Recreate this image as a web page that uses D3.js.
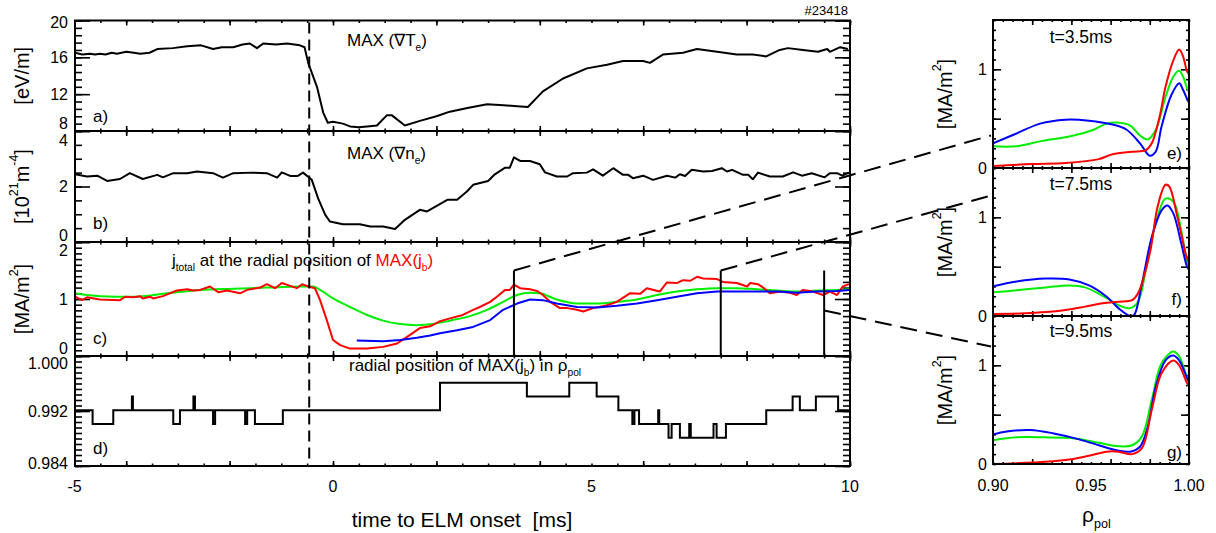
<!DOCTYPE html>
<html><head><meta charset="utf-8">
<script src="https://cdn.jsdelivr.net/npm/d3@7"></script>
<style>
body{margin:0;background:#fff;}
svg{display:block;font-family:"Liberation Sans",Arial,Helvetica,sans-serif;}
</style>
</head><body>
<svg id="chart" width="1216" height="533"></svg>
<script>
// ---------------- DATA ----------------
// a) MAX(grad Te) [eV/m]
const tA=[-4.99,-4.85,-4.70,-4.60,-4.51,-4.40,-4.28,-4.18,-4.00,-3.85,-3.73,-3.55,-3.40,-3.10,-2.82,-2.55,-2.32,-2.15,-1.93,-1.75,-1.61,-1.47,-1.35,-1.10,-0.89,-0.64,-0.55,-0.48,-0.31,-0.19,-0.10,0.00,0.19,0.33,0.50,0.66,0.85,1.04,1.14,1.39,1.68,2.00,2.26,2.60,2.98,3.30,3.56,3.77,4.06,4.45,4.91,5.30,5.61,6.00,6.13,6.38,6.77,7.04,7.43,7.81,8.12,8.38,8.64,8.80,9.09,9.38,9.56,9.61,9.81,9.96];
const gradTe=[16.5,16.3,16.4,16.3,16.4,16.3,16.5,16.4,16.6,16.5,16.4,16.5,16.9,17.0,17.2,17.3,16.9,17.1,17.1,17.4,17.5,17.0,17.5,17.4,17.5,17.3,17.1,15.4,12.8,10.0,8.9,9.0,8.8,8.5,8.4,8.5,8.6,9.7,9.7,8.6,9.1,9.6,10.1,10.5,10.9,10.8,10.7,10.6,12.3,13.7,14.8,15.2,15.6,15.6,15.4,16.3,16.5,16.9,16.6,16.3,16.3,16.1,16.8,17.0,16.8,16.6,16.9,16.6,17.1,16.9];
// b) MAX(grad ne) [1e21 m^-4]
const tB=[-4.99,-4.76,-4.56,-4.37,-4.12,-3.93,-3.68,-3.40,-3.29,-3.09,-2.82,-2.63,-2.32,-2.13,-1.93,-1.55,-1.28,-1.08,-0.99,-0.83,-0.68,-0.58,-0.41,-0.29,-0.15,-0.06,0.19,0.52,0.72,0.97,1.20,1.39,1.68,1.82,2.21,2.40,2.59,2.71,3.00,3.13,3.33,3.42,3.50,3.62,3.81,4.00,4.10,4.33,4.53,4.64,4.91,5.03,5.22,5.42,5.61,5.71,5.80,6.00,6.19,6.46,6.62,6.71,6.81,6.94,7.16,7.33,7.52,7.62,7.72,7.93,8.03,8.12,8.22,8.45,8.70,8.90,9.07,9.26,9.51,9.61,9.75,9.85,9.98];
const gradNe=[2.44,2.36,2.39,2.20,2.27,2.48,2.27,2.42,2.33,2.48,2.48,2.54,2.48,2.32,2.48,2.50,2.48,2.32,2.51,2.38,2.38,2.50,2.24,1.58,0.98,0.74,0.64,0.64,0.56,0.56,0.47,0.80,1.16,1.10,1.52,1.52,1.82,2.06,2.20,2.44,2.68,2.68,3.05,2.92,2.92,2.80,2.51,2.36,2.36,2.48,2.50,2.62,2.39,2.66,2.42,2.42,2.30,2.39,2.24,2.39,2.32,2.44,2.38,2.60,2.54,2.56,2.66,2.54,2.60,2.42,2.42,2.26,2.50,2.36,2.36,2.51,2.39,2.48,2.33,2.48,2.48,2.39,2.50];
// c) j_total at radial position of MAX(j_b) [MA/m^2]
const tGreen=[-4.99,-4.51,-3.87,-3.21,-2.57,-1.93,-1.28,-0.64,-0.39,-0.25,0.00,0.33,0.66,0.97,1.30,1.62,1.93,2.26,2.65,2.98,3.29,3.56,3.81,4.00,4.33,4.72,5.11,5.49,5.88,6.27,6.65,7.04,7.43,7.81,8.20,8.59,8.97,9.36,9.75,9.98];
const jGreen=[1.10,1.05,1.04,1.10,1.16,1.18,1.20,1.22,1.22,1.16,1.01,0.86,0.72,0.62,0.56,0.54,0.56,0.62,0.70,0.81,0.95,1.07,1.11,1.10,0.99,0.92,0.92,0.95,0.99,1.07,1.13,1.17,1.19,1.19,1.17,1.15,1.13,1.15,1.16,1.17];
const tRed=[-4.99,-4.85,-4.76,-4.51,-4.12,-4.02,-3.87,-3.73,-3.68,-3.54,-3.48,-3.29,-3.02,-2.82,-2.71,-2.57,-2.38,-2.22,-2.05,-1.80,-1.66,-1.41,-1.28,-1.12,-0.99,-0.83,-0.70,-0.60,-0.48,-0.35,-0.25,-0.12,0.00,0.14,0.33,0.66,0.97,1.24,1.49,1.68,1.88,2.07,2.26,2.51,2.71,2.84,3.04,3.17,3.33,3.42,3.50,3.62,3.81,3.95,4.06,4.20,4.39,4.53,4.72,4.84,5.03,5.30,5.49,5.74,5.94,6.07,6.32,6.46,6.65,6.77,6.91,7.04,7.16,7.43,7.54,7.81,8.01,8.07,8.22,8.32,8.45,8.65,8.84,8.97,9.09,9.28,9.48,9.61,9.75,9.86,9.98];
const jRed=[1.04,0.98,1.03,0.99,0.98,1.04,1.03,1.05,1.01,1.04,1.01,1.05,1.15,1.17,1.15,1.16,1.22,1.12,1.15,1.10,1.16,1.20,1.26,1.19,1.28,1.23,1.19,1.26,1.22,1.19,0.98,0.63,0.28,0.19,0.13,0.13,0.16,0.22,0.37,0.49,0.52,0.61,0.66,0.72,0.81,0.86,0.95,1.04,1.16,1.16,1.25,1.19,1.17,1.14,1.07,0.95,0.84,0.84,0.81,0.78,0.84,0.89,0.95,1.10,1.09,1.19,1.13,1.29,1.28,1.33,1.32,1.39,1.36,1.35,1.30,1.28,1.22,1.28,1.26,1.20,1.10,1.13,1.11,1.07,1.16,1.13,1.07,1.13,1.07,1.22,1.26];
const tBlue=[0.46,0.97,1.30,1.62,1.88,2.07,2.40,2.71,3.04,3.29,3.56,3.81,4.06,4.33,4.72,5.11,5.49,5.88,6.27,6.65,7.04,7.43,7.81,8.20,8.59,8.97,9.36,9.75,9.98];
const jBlue=[0.27,0.26,0.28,0.32,0.36,0.40,0.45,0.51,0.63,0.81,0.92,0.99,0.98,0.92,0.86,0.85,0.88,0.92,0.98,1.04,1.10,1.13,1.13,1.13,1.13,1.11,1.13,1.14,1.16];
// d) radial position of MAX(j_b) in rho_pol (step function)
const tD=[-4.99,-4.65,-4.25,-3.89,-3.87,-3.09,-2.96,-2.70,-2.67,-2.32,-2.28,-1.70,-1.66,-1.51,-0.97,2.07,3.75,4.57,5.10,5.52,5.79,5.83,5.92,6.29,6.31,6.49,6.55,6.71,6.89,6.92,7.36,7.42,7.60,8.38,8.89,9.03,9.34,9.77,10.0];
const rhoMax=[0.9921,0.9901,0.9921,0.9941,0.9921,0.9901,0.9921,0.9941,0.9921,0.9901,0.9921,0.9901,0.9921,0.9901,0.9921,0.9961,0.9941,0.9961,0.9941,0.9921,0.9901,0.9921,0.9901,0.9921,0.9901,0.9881,0.9901,0.9881,0.9901,0.9881,0.9901,0.9881,0.9901,0.9921,0.9941,0.9921,0.9941,0.9921,0.9921];
const tElm=-0.46;
// snapshot times and connector values
const snapT=[3.5,7.5,9.5];
const snapLabels=["t=3.5ms","t=7.5ms","t=9.5ms"];
const snapTop=[1.5,1.5,1.5];
const connStartJ=[1.5,1.5,0.8];
const connEndJ=[0.33,1.22,1.19];
// e) t=3.5ms profiles
const eBlueRho=[0.900,0.912,0.924,0.937,0.949,0.961,0.968,0.975,0.980,0.983,0.986,0.991,0.995,0.997,0.999,1.000];
const eBlueJ=[0.25,0.35,0.45,0.49,0.48,0.44,0.39,0.25,0.125,0.165,0.42,0.74,0.86,0.79,0.70,0.66];
const eGreenRho=[0.900,0.912,0.924,0.939,0.951,0.958,0.963,0.970,0.975,0.979,0.983,0.988,0.992,0.995,0.997,0.999,1.000];
const eGreenJ=[0.22,0.22,0.27,0.32,0.385,0.45,0.46,0.43,0.33,0.29,0.385,0.72,0.925,0.985,0.925,0.81,0.77];
const eRedRho=[0.900,0.920,0.937,0.954,0.961,0.971,0.978,0.981,0.985,0.988,0.992,0.995,0.997,0.999,1.000];
const eRedJ=[0.02,0.04,0.05,0.09,0.14,0.165,0.18,0.25,0.52,0.82,1.09,1.20,1.13,0.98,0.95];
// f) t=7.5ms profiles
const fBlueRho=[0.900,0.912,0.927,0.939,0.949,0.958,0.964,0.970,0.972,0.976,0.981,0.986,0.989,0.992,0.996,0.999,1.000];
const fBlueJ=[0.30,0.35,0.38,0.37,0.31,0.195,0.08,0.00,0.01,0.33,0.80,1.07,1.12,1.04,0.74,0.50,0.47];
const fGreenRho=[0.900,0.912,0.927,0.939,0.947,0.958,0.964,0.970,0.974,0.978,0.983,0.988,0.992,0.996,0.999,1.000];
const fGreenJ=[0.24,0.26,0.29,0.31,0.29,0.18,0.11,0.08,0.145,0.47,0.94,1.19,1.16,0.87,0.55,0.50];
const fRedRho=[0.900,0.920,0.937,0.947,0.956,0.964,0.971,0.974,0.980,0.984,0.988,0.990,0.994,0.999,1.000];
const fRedJ=[0.02,0.03,0.06,0.095,0.13,0.145,0.16,0.23,0.635,1.11,1.33,1.31,1.01,0.585,0.55];
// g) t=9.5ms profiles
const gBlueRho=[0.900,0.907,0.919,0.931,0.942,0.954,0.963,0.970,0.975,0.979,0.983,0.988,0.992,0.995,0.999,1.000];
const gBlueJ=[0.30,0.33,0.345,0.31,0.26,0.19,0.14,0.125,0.175,0.38,0.78,1.05,1.10,1.05,0.87,0.83];
const gGreenRho=[0.900,0.912,0.926,0.941,0.954,0.964,0.971,0.976,0.981,0.986,0.992,0.995,0.999,1.000];
const gGreenJ=[0.24,0.27,0.27,0.26,0.215,0.18,0.19,0.28,0.65,1.02,1.14,1.09,0.88,0.85];
const gRedRho=[0.900,0.920,0.937,0.947,0.958,0.964,0.971,0.976,0.981,0.986,0.992,0.995,0.999,1.000];
const gRedJ=[0.00,0.015,0.04,0.075,0.125,0.125,0.10,0.16,0.55,0.92,1.05,1.00,0.82,0.79];
// tick labels
const xTickLabels=[-5,0,5,10];
const xMajorTicks=[-4,-2,0,2,4,6,8,10];
const aTicks=[8,12,16,20];
const bTicks=[0,2,4];
const cTicks=[0,1,2];
const dTicks=[0.984,0.992,1.000];
const rhoTickLabels=[0.90,0.95,1.00];
const rhoMajorTicks=[0.92,0.94,0.96,0.98];
const rightYLabels=[0,1];
const rightYMajor=[0.5,1.0];

// ---------------- DRAWING ----------------
const svg=d3.select("#chart");
const RED="#ff0000", GREEN="#00ee00", BLUE="#0000ff";
const xT=d3.scaleLinear().domain([-5,10]).range([74.5,850]);
const XL0=75, XL1=850;

const panelsL=[
 {top:20.5,bot:131,dom:[8,20],ticks:aTicks,minor:0.8,fmt:d=>d,shiftTop:2,shiftBot:-8,lab:"a)",labY:122},
 {top:131,bot:242,dom:[0,4],ticks:bTicks,minor:0.5,fmt:d=>d,shiftTop:9,shiftBot:-7,lab:"b)",labY:229},
 {top:242,bot:356,dom:[0,2],ticks:cTicks,minor:0.1,fmt:d=>d,shiftTop:8,shiftBot:-8,lab:"c)",labY:344},
 {top:356,bot:466,dom:[0.984,1.000],ticks:dTicks,minor:0.0008,fmt:d3.format(".3f"),shiftTop:7,shiftBot:-3,lab:"d)",labY:454}
];
panelsL.forEach(p=>{p.y=d3.scaleLinear().domain(p.dom).range([p.bot,p.top]);});

const defs=svg.append("defs");
function clip(id,x0,y0,x1,y1){defs.append("clipPath").attr("id",id).append("rect").attr("x",x0).attr("y",y0).attr("width",x1-x0).attr("height",y1-y0);}

function yTicks(y,x0,x1,vals,len){
  const g=svg.append("g");
  g.append("g").attr("transform",`translate(${x0},0)`).call(d3.axisRight(y).tickValues(vals).tickSize(len).tickFormat(""));
  g.append("g").attr("transform",`translate(${x1},0)`).call(d3.axisLeft(y).tickValues(vals).tickSize(len).tickFormat(""));
  g.selectAll(".domain").remove();
  g.selectAll("line").attr("stroke","#000").attr("stroke-width",1.6);
}
function xTicks(x,y0,y1,vals,len){
  const g=svg.append("g");
  g.append("g").attr("transform",`translate(0,${y0})`).call(d3.axisBottom(x).tickValues(vals).tickSize(len).tickFormat(""));
  g.append("g").attr("transform",`translate(0,${y1})`).call(d3.axisTop(x).tickValues(vals).tickSize(len).tickFormat(""));
  g.selectAll(".domain").remove();
  g.selectAll("line").attr("stroke","#000").attr("stroke-width",1.6);
}
const rng=(a,b,s)=>d3.range(a,b+s/2,s);

// left panels
panelsL.forEach((p,i)=>{
  clip("cl"+i,XL0,p.top,XL1,p.bot);
  yTicks(p.y,XL0,XL1,rng(p.dom[0],p.dom[1],p.minor),7);
  yTicks(p.y,XL0,XL1,p.ticks,15);
  xTicks(xT,p.top,p.bot,rng(-5,10,0.5),2.5);
  xTicks(xT,p.top,p.bot,xMajorTicks,5);
  p.ticks.forEach((v,k)=>{
    let yy=p.y(v);
    if(v===p.dom[1]) yy+=p.shiftTop;
    if(v===p.dom[0]) yy+=p.shiftBot;
    svg.append("text").attr("x",68).attr("y",yy).attr("dy","0.35em").attr("text-anchor","end")
      .attr("font-size",16).text(p.fmt(v));
  });
  svg.append("text").attr("x",93).attr("y",p.labY).attr("font-size",17).text(p.lab);
});

const lineT=(y,curve)=>d3.line().x(d=>xT(d[0])).y(d=>y(d[1])).curve(curve||d3.curveLinear);
const zip=(a,b)=>a.map((v,i)=>[v,b[i]]);

// a
svg.append("path").attr("clip-path","url(#cl0)").attr("d",lineT(panelsL[0].y)(zip(tA,gradTe)))
  .attr("fill","none").attr("stroke","#000").attr("stroke-width",2).attr("stroke-linejoin","round");
// b
svg.append("path").attr("clip-path","url(#cl1)").attr("d",lineT(panelsL[1].y)(zip(tB,gradNe)))
  .attr("fill","none").attr("stroke","#000").attr("stroke-width",2).attr("stroke-linejoin","round");
// c
const yc=panelsL[2].y;
[[tGreen,jGreen,GREEN,d3.curveMonotoneX],[tRed,jRed,RED,d3.curveLinear],[tBlue,jBlue,BLUE,d3.curveLinear]].forEach(([t,j,c,cv])=>{
  svg.append("path").attr("clip-path","url(#cl2)").attr("d",lineT(yc,cv)(zip(t,j)))
    .attr("fill","none").attr("stroke",c).attr("stroke-width",2).attr("stroke-linejoin","round");
});
// d step
svg.append("path").attr("clip-path","url(#cl3)").attr("d",lineT(panelsL[3].y,d3.curveStepAfter)(zip(tD,rhoMax)))
  .attr("fill","none").attr("stroke","#000").attr("stroke-width",2);

// frames
panelsL.forEach(p=>{
  svg.append("rect").attr("x",XL0).attr("y",p.top).attr("width",XL1-XL0).attr("height",p.bot-p.top)
    .attr("fill","none").attr("stroke","#000").attr("stroke-width",2);
});

// ELM dashed line
svg.append("line").attr("x1",xT(tElm)).attr("x2",xT(tElm)).attr("y1",panelsL[0].top+2).attr("y2",panelsL[3].bot-3)
  .attr("stroke","#000").attr("stroke-width",2).attr("stroke-dasharray","11,6");

// snapshot vertical lines
snapT.forEach((t,i)=>{
  svg.append("line").attr("x1",xT(t)).attr("x2",xT(t)).attr("y1",yc(snapTop[i])).attr("y2",yc(0))
    .attr("stroke","#000").attr("stroke-width",2);
});

// x tick labels & title
xTickLabels.forEach(v=>{
  svg.append("text").attr("x",xT(v)).attr("y",492).attr("text-anchor","middle").attr("font-size",16).text(v);
});
svg.append("text").attr("x",462).attr("y",527).attr("text-anchor","middle").attr("font-size",21)
  .style("white-space","pre").text("time to ELM onset  [ms]");

// y titles
function supTitle(x,y,parts,fs){
  const t=svg.append("text").attr("transform",`translate(${x},${y}) rotate(-90)`).attr("text-anchor","middle")
    .attr("dominant-baseline","central").attr("font-size",fs);
  parts.forEach(([s,sup])=>{
    const ts=t.append("tspan").text(s);
    if(sup===1) ts.attr("font-size",fs*0.62).attr("dy",-fs*0.38);
    if(sup===-1) ts.attr("dy",fs*0.38);
  });
  return t;
}
supTitle(22,(panelsL[0].top+panelsL[0].bot)/2,[["[eV/m]",0]],20);
supTitle(22,(panelsL[1].top+panelsL[1].bot)/2,[["[10",0],["21",1],["m",-1],["-4",1],["]",-1]],20);
supTitle(22,(panelsL[2].top+panelsL[2].bot)/2,[["[MA/m",0],["2",1],["]",-1]],20);

// annotations
function subText(x,y,parts,fs,anchor){
  const t=svg.append("text").attr("x",x).attr("y",y).attr("font-size",fs).attr("text-anchor",anchor||"start").style("white-space","pre");
  parts.forEach(([s,sub,col])=>{
    const ts=t.append("tspan").text(s);
    if(col) ts.attr("fill",col);
    if(sub===1) ts.attr("font-size",fs*0.6).attr("dy",fs*0.3);
    if(sub===-1) ts.attr("dy",-fs*0.3);
  });
  return t;
}
subText(347,46,[["MAX (\u2207T",0],["e",1],[")",-1]],17);
subText(347,159,[["MAX (\u2207n",0],["e",1],[")",-1]],17);
subText(172,266,[["j",0],["total",1],[" at the radial position of ",-1],["MAX(j",0,RED],["b",1,RED],[")",-1,RED]],17);
subText(349,371,[["radial position of MAX(j",0],["b",1],[") in \u03c1",-1],["pol",1]],17);
svg.append("text").attr("x",848).attr("y",15).attr("text-anchor","end").attr("font-size",13).text("#23418");

// ---------------- right panels ----------------
const xR=d3.scaleLinear().domain([0.90,1.00]).range([993,1189]);
const panelsR=[
 {top:20,bot:168,lab:"e)",labY:159,tY:43,curves:[[eGreenRho,eGreenJ,GREEN],[eBlueRho,eBlueJ,BLUE],[eRedRho,eRedJ,RED]]},
 {top:168,bot:316,lab:"f)",labY:305,tY:190,curves:[[fGreenRho,fGreenJ,GREEN],[fBlueRho,fBlueJ,BLUE],[fRedRho,fRedJ,RED]]},
 {top:316,bot:464,lab:"g)",labY:458,tY:337,curves:[[gGreenRho,gGreenJ,GREEN],[gBlueRho,gBlueJ,BLUE],[gRedRho,gRedJ,RED]]}
];
panelsR.forEach((p,i)=>{
  p.y=d3.scaleLinear().domain([0,1.5]).range([p.bot,p.top]);
  clip("cr"+i,xR.range()[0],p.top,xR.range()[1],p.bot);
  yTicks(p.y,993,1189,rng(0,1.5,0.1),3);
  yTicks(p.y,993,1189,rightYMajor,8);
  xTicks(xR,p.top,p.bot,rng(0.90,1.00,0.005),2);
  xTicks(xR,p.top,p.bot,rhoMajorTicks,5);
  p.curves.forEach(([r,j,c])=>{
    svg.append("path").attr("clip-path",`url(#cr${i})`)
      .attr("d",d3.line().x(d=>xR(d[0])).y(d=>p.y(d[1])).curve(d3.curveCatmullRom.alpha(0.5))(zip(r,j)))
      .attr("fill","none").attr("stroke",c).attr("stroke-width",2);
  });
  svg.append("rect").attr("x",993).attr("y",p.top).attr("width",1189-993).attr("height",p.bot-p.top)
    .attr("fill","none").attr("stroke","#000").attr("stroke-width",2);
  rightYLabels.forEach(v=>{
    svg.append("text").attr("x",987).attr("y",p.y(v)).attr("dy","0.35em").attr("text-anchor","end").attr("font-size",16).text(v);
  });
  svg.append("text").attr("x",1081).attr("y",p.tY).attr("text-anchor","middle").attr("font-size",17.5).text(snapLabels[i]);
  svg.append("text").attr("x",1182).attr("y",p.labY).attr("text-anchor","end").attr("font-size",17).text(p.lab);
  supTitle(945,(p.top+p.bot)/2,[["[MA/m",0],["2",1],["]",-1]],20);
});
rhoTickLabels.forEach(v=>{
  svg.append("text").attr("x",xR(v)).attr("y",491).attr("text-anchor","middle").attr("font-size",16).text(d3.format(".2f")(v));
});
subText(1082,522,[["\u03c1",0],["pol",1]],21);

// connectors (dashed)
snapT.forEach((t,i)=>{
  const p=panelsR[i];
  svg.append("line").attr("x1",xT(t)).attr("y1",yc(connStartJ[i])).attr("x2",xR(0.90)-2).attr("y2",p.y(connEndJ[i]))
    .attr("stroke","#000").attr("stroke-width",2).attr("stroke-dasharray","17,9");
});
</script>
</body></html>
